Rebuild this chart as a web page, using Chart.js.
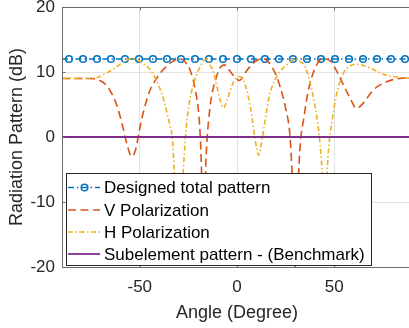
<!DOCTYPE html>
<html>
<head>
<meta charset="utf-8">
<script src="https://cdn.jsdelivr.net/npm/chart.js@4.4.0/dist/chart.umd.min.js"></script>
<style>
html, body { margin: 0; padding: 0; overflow: hidden; background: #fff; }
#wrap { width: 414px; height: 328px; }
</style>
</head>
<body>
<div id="wrap"><canvas id="myCanvas" width="414" height="328"></canvas></div>
<script>
// values
var xTicks = [-50, 0, 50];
var yTicks = [-20, -10, 0, 10, 20];
var seriesNames = ["Designed total pattern", "V Polarization", "H Polarization", "Subelement pattern - (Benchmark)"];

var totalAngle = [-90, -86.4, -79.2, -72, -64.8, -57.6, -50.4, -43.2, -36, -28.8, -21.6, -14.4, -7.2, 0,
                  7.2, 14.4, 21.6, 28.8, 36, 43.2, 50.4, 57.6, 64.8, 72, 79.2, 86.4, 90];
var totalDb = [12, 12, 12, 12, 12, 12, 12, 12, 12, 12, 12, 12, 12, 12,
               12, 12, 12, 12, 12, 12, 12, 12, 12, 12, 12, 12, 12];

var vAngle = [-90, -80, -75, -72.5, -70, -68, -65, -61.5, -59, -56.5, -54.2, -52, -50.5, -48, -45, -42, -39.3, -36.5,
              -34.2, -32, -30, -28, -26, -24, -21.4, -19.7, -18.8, -18.2, -17.6, -17.2, -16.8, -16.2, -15.5, -14.6,
              -13.5, -12, -11, -9.5, -8, -6.5, -5, -2.5, 0, 1, 2.5, 5, 7.5, 10.3, 13.7, 16, 17.9, 20, 22.2, 24.8,
              27.3, 28.3, 29.3, 29.9, 30.2, 30.5, 31.1, 31.7, 32.7, 34.2, 36.7, 40.2, 43.6, 45.5, 48.7, 51, 53.8,
              58.1, 61.5, 64.9, 70, 76.9, 83.7, 90];
var vDb = [9.0, 9.0, 9.0, 8.9, 8.6, 8.2, 7.0, 4.6, 1.9, -1.2, -3.0, -1.8, 0.6, 4.0, 7.0, 8.7, 9.9, 10.8,
           11.4, 11.8, 12.0, 11.9, 11.3, 10.2, 7.2, 3.6, -0.5, -5.6, -12, -19, -12, -5.6, -0.8, 2.5,
           5.5, 7.8, 8.8, 10.2, 10.9, 11.1, 10.7, 9.7, 8.9, 8.7, 9.0, 10.2, 11.1, 11.8, 12.0, 11.6, 10.8, 9.6, 7.7, 4.7,
           0, -5.4, -11, -20, -35, -20, -11, -5.6, -0.5, 2.6, 7.2, 10.6, 12.0, 12.0, 11.5, 10.3, 8.6,
           6.0, 4.4, 5.2, 7.2, 8.5, 9.0, 9.1];

var hAngle = [-90, -80, -74, -71.5, -68, -65, -62, -59.5, -57, -54.5, -52, -49.6, -47, -44.5, -42, -39.3, -37.5,
              -35.9, -34.5, -33.3, -32.2, -31, -30.2, -29.9, -29.5, -28.7, -27.7, -26.5, -24.8, -22.2, -20.5, -18.8,
              -17, -15.4, -13.7, -12, -10.3, -8.5, -6.9, -5.2, -3.4, -1.5, 0.9, 2.2, 3.4, 5, 6.8, 8.2, 9.4, 11.1,
              12.4, 13.7, 16.2, 18.2, 20.5, 23, 25.6, 28, 30.2, 32.5, 35, 38.5, 41, 42.7, 43.6, 44.4, 45.1, 45.8,
              46.5, 47.5, 48.7, 51.3, 54.7, 58, 61.5, 65, 68.4, 72, 76.9, 83.7, 90];
var hDb = [9.0, 9.0, 9.0, 9.2, 9.7, 10.2, 10.8, 11.3, 11.8, 12.0, 11.9, 11.6, 11.0, 10.3, 9.0, 7.2, 5.5,
           3.6, 1.8, 0, -5.6, -11, -20, -35, -20, -11, -5.6, 0, 4.7, 8.3, 9.8, 10.9,
           11.8, 12.0, 11.0, 9.9, 7.7, 5.5, 4.5, 5.6, 7.2, 8.6, 9.3, 9.2, 8.7, 7.2, 4.7, 2.0, -0.5, -2.8,
           -1.2, 1.1, 5.7, 7.9, 9.3, 10.4, 11.1, 11.7, 12.0, 11.6, 10.8, 7.2, 3.1, -1.0, -4.6, -10, -19, -10,
           -4.6, -0.5, 2.1, 6.7, 9.8, 10.9, 11.2, 11.0, 10.6, 10.1, 9.5, 9.2, 9.0];

var benchAngle = [-90, 90];
var benchDb = [0, 0];

function pts(xs, ys) {
  return xs.map(function (x, i) { return { x: x, y: ys[i] }; });
}

var FONT = '"Liberation Sans", Arial, Helvetica, sans-serif';
var TXT = '#262626';
var GRID = '#e2e2e2';

var datasets = [
  {
    label: seriesNames[0], data: pts(totalAngle, totalDb),
    borderColor: '#0072BD', borderWidth: 1.6, borderDash: [6, 3, 1.5, 3],
    pointStyle: 'circle', pointBorderColor: '#0072BD', pointBackgroundColor: 'rgba(0,0,0,0)',
    pointBorderWidth: 1.5,
    pointRadius: function (c) { return (c.raw && Math.abs(c.raw.x) === 90) ? 0 : 3.3; },
    order: 4
  },
  {
    label: seriesNames[1], data: pts(vAngle, vDb),
    borderColor: '#D95319', borderWidth: 1.6, borderDash: [8, 4.5],
    pointRadius: 0, cubicInterpolationMode: 'monotone', order: 3
  },
  {
    label: seriesNames[2], data: pts(hAngle, hDb),
    borderColor: '#EDB120', borderWidth: 1.6, borderDash: [5, 2.5, 1.5, 2.5],
    pointRadius: 0, cubicInterpolationMode: 'monotone', order: 2
  },
  {
    label: seriesNames[3], data: pts(benchAngle, benchDb),
    borderColor: '#7E2F8E', borderWidth: 1.8,
    pointRadius: 0, order: 1
  }
];

// box, inward ticks and the legend drawn on top
var boxAndLegend = {
  id: 'boxAndLegend',
  afterDatasetsDraw: function (chart) {
    var ctx = chart.ctx, a = chart.chartArea;
    var xs = chart.scales.x, ys = chart.scales.y;
    ctx.save();
    ctx.strokeStyle = '#6a6a6a';
    ctx.lineWidth = 1;
    ctx.setLineDash([]);
    ctx.beginPath();
    ctx.moveTo(a.left + 0.5, a.top + 0.5); ctx.lineTo(a.right, a.top + 0.5);
    ctx.moveTo(a.left + 0.5, a.top); ctx.lineTo(a.left + 0.5, a.bottom + 0.5);
    ctx.moveTo(a.left, a.bottom + 0.5); ctx.lineTo(a.right, a.bottom + 0.5);
    xTicks.forEach(function (v) {
      var px = Math.round(xs.getPixelForValue(v)) + 0.5;
      ctx.moveTo(px, a.bottom); ctx.lineTo(px, a.bottom - 3.5);
      ctx.moveTo(px, a.top); ctx.lineTo(px, a.top + 3.5);
    });
    yTicks.forEach(function (v) {
      var py = Math.round(ys.getPixelForValue(v)) + 0.5;
      ctx.moveTo(a.left, py); ctx.lineTo(a.left + 3.5, py);
    });
    ctx.stroke();

    // legend
    var L = 66, T = 173, W = 305, H = 92;
    ctx.fillStyle = '#fff';
    ctx.fillRect(L, T, W, H);
    ctx.strokeStyle = '#262626';
    ctx.strokeRect(L + 0.5, T + 0.5, W, H);
    var rows = [187.5, 210, 232, 254];
    ctx.font = '17px ' + FONT;
    ctx.textBaseline = 'middle';
    chart.data.datasets.forEach(function (ds, i) {
      var y = rows[i];
      ctx.strokeStyle = ds.borderColor;
      ctx.lineWidth = ds.borderWidth;
      ctx.setLineDash(ds.borderDash || []);
      ctx.beginPath();
      ctx.moveTo(68, y); ctx.lineTo(100, y);
      ctx.stroke();
      if (i === 0) {
        ctx.setLineDash([]);
        ctx.lineWidth = 1.5;
        ctx.beginPath();
        ctx.arc(84.5, y, 3.3, 0, Math.PI * 2);
        ctx.stroke();
      }
      ctx.fillStyle = '#000';
      ctx.fillText(ds.label, 104, y + 1);
    });
    ctx.restore();
  }
};

var chart = new Chart(document.getElementById('myCanvas').getContext('2d'), {
  type: 'line',
  data: { datasets: datasets },
  options: {
    responsive: false,
    animation: false,
    devicePixelRatio: 1,
    layout: { padding: { top: 7, right: 2, left: 0, bottom: 0 } },
    elements: { line: { tension: 0 } },
    plugins: { legend: { display: false }, tooltip: { enabled: false } },
    scales: {
      x: {
        type: 'linear', min: -90, max: 90,
        afterBuildTicks: function (s) { s.ticks = xTicks.map(function (v) { return { value: v }; }); },
        afterFit: function (s) { s.height = 61; s.paddingLeft = 0; s.paddingRight = 0; },
        grid: { color: GRID, drawTicks: false, lineWidth: 1 },
        border: { display: false },
        ticks: { font: { family: FONT, size: 17 }, color: TXT, padding: 10, maxRotation: 0, autoSkip: false },
        title: { display: true, text: 'Angle (Degree)', color: TXT, font: { family: FONT, size: 18 },
                 padding: { top: 0, bottom: 4 } }
      },
      y: {
        type: 'linear', min: -20, max: 20,
        afterBuildTicks: function (s) { s.ticks = yTicks.map(function (v) { return { value: v }; }); },
        afterFit: function (s) { s.width = 62; s.paddingTop = 0; s.paddingBottom = 0; },
        grid: {
          drawTicks: false, lineWidth: 1,
          color: function (c) { return (c.tick && Math.abs(c.tick.value) === 20) ? 'rgba(0,0,0,0)' : GRID; }
        },
        border: { display: false },
        ticks: { font: { family: FONT, size: 17 }, color: TXT, padding: 7 },
        title: { display: true, text: 'Radiation Pattern (dB)', color: TXT, font: { family: FONT, size: 18 },
                 padding: { top: 6, bottom: 0 } }
      }
    }
  },
  plugins: [boxAndLegend]
});
</script>
</body>
</html>
